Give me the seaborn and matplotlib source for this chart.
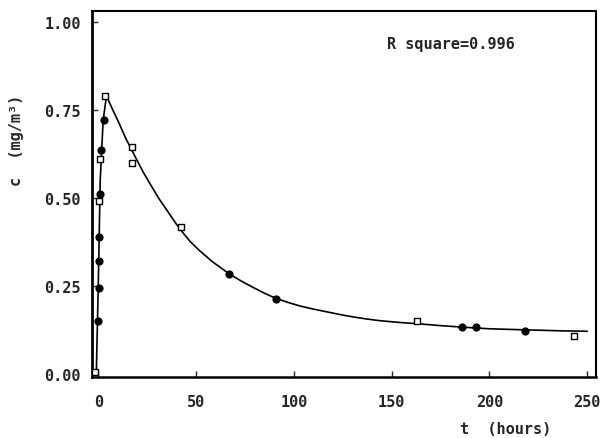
import matplotlib
matplotlib.use("Agg")
import matplotlib.pyplot as plt
import seaborn as sns
import pandas as pd

# measured concentrations, filled circles
t_filled = [0.1, 0.2, 0.35, 0.5, 1.0, 1.5, 3.0, 67, 91, 186, 193, 218]
c_filled = [0.15, 0.245, 0.32, 0.39, 0.51, 0.635, 0.72, 0.284, 0.213, 0.134, 0.134, 0.122]

# measured concentrations, open squares
t_open = [-1.5, 0.3, 0.8, 3.5, 17.5, 17.5, 42.5, 163, 243]
c_open = [0.005, 0.49, 0.61, 0.79, 0.645, 0.60, 0.418, 0.15, 0.108]

# fitted curve
t_fit = [-1, 0, 1, 2.5, 4.2, 7, 10, 14, 18.6, 23, 27, 31, 35.7, 40, 43.3, 47, 51.8,
         58.5, 67, 73, 79, 85, 91, 97, 103, 110, 117, 124, 130, 137, 144, 154,
         164, 175, 188, 200, 212, 225, 238, 250]
c_fit = [0, 0.25, 0.55, 0.72, 0.79, 0.755, 0.72, 0.67, 0.62, 0.573, 0.535, 0.498,
         0.46, 0.425, 0.401, 0.376, 0.350, 0.318, 0.284, 0.264, 0.246, 0.229,
         0.214, 0.203, 0.193, 0.184, 0.176, 0.168, 0.162, 0.156, 0.151, 0.146,
         0.142, 0.137, 0.132, 0.128, 0.126, 0.124, 0.122, 0.121]

x_ticks = [0, 50, 100, 150, 200, 250]
y_ticks = [0.00, 0.25, 0.50, 0.75, 1.00]

sns.set_style("white")
plt.rcParams['font.family'] = ['DejaVu Sans Mono', 'DejaVu Sans']
plt.rcParams['font.weight'] = 'bold'

fig = plt.figure(figsize=(6.12, 4.39), dpi=100)
ax = fig.add_axes([92 / 612, 1 - 378 / 439, 504 / 612, 366 / 439])

fit = pd.DataFrame({"t": t_fit, "c": c_fit})
filled = pd.DataFrame({"t": t_filled, "c": c_filled})
opened = pd.DataFrame({"t": t_open, "c": c_open})

sns.lineplot(data=fit, x="t", y="c", ax=ax, color="black", linewidth=1.2,
             sort=False, estimator=None)
sns.scatterplot(data=filled, x="t", y="c", ax=ax, marker="o", s=26,
                color="black", edgecolor="black", linewidth=0.8, zorder=3)
sns.scatterplot(data=opened, x="t", y="c", ax=ax, marker="s", s=24,
                facecolor="white", edgecolor="black", linewidth=1.0, zorder=3)

ax.set_xlim(-3.2, 254.5)
ax.set_ylim(-0.009, 1.031)
ax.set_xticks(x_ticks)
ax.set_yticks(y_ticks)
ax.set_xticklabels([str(v) for v in x_ticks])
ax.set_yticklabels(["%.2f" % v for v in y_ticks])
ax.tick_params(axis="x", direction="in", length=4, width=1, pad=12,
               labelsize=11, bottom=True)
ax.tick_params(axis="y", direction="in", length=4, width=1, pad=8,
               labelsize=11, left=True)

for side, lw in [("left", 2.0), ("bottom", 1.8), ("right", 1.5), ("top", 1.5)]:
    ax.spines[side].set_visible(True)
    ax.spines[side].set_color("black")
    ax.spines[side].set_linewidth(lw)

ax.set_xlabel("t  (hours)", fontsize=11, fontweight="bold")
ax.set_ylabel("c  (mg/m\u00b3)", fontsize=11, fontweight="bold")
ax.xaxis.set_label_coords(0.82, -0.12)
ax.yaxis.set_label_coords(-0.135, 0.65)

ax.text(0.585, 0.91, "R square=0.996", transform=ax.transAxes,
        fontsize=11, fontweight="bold", va="center", ha="left")

fig.savefig("out.png", dpi=100)
